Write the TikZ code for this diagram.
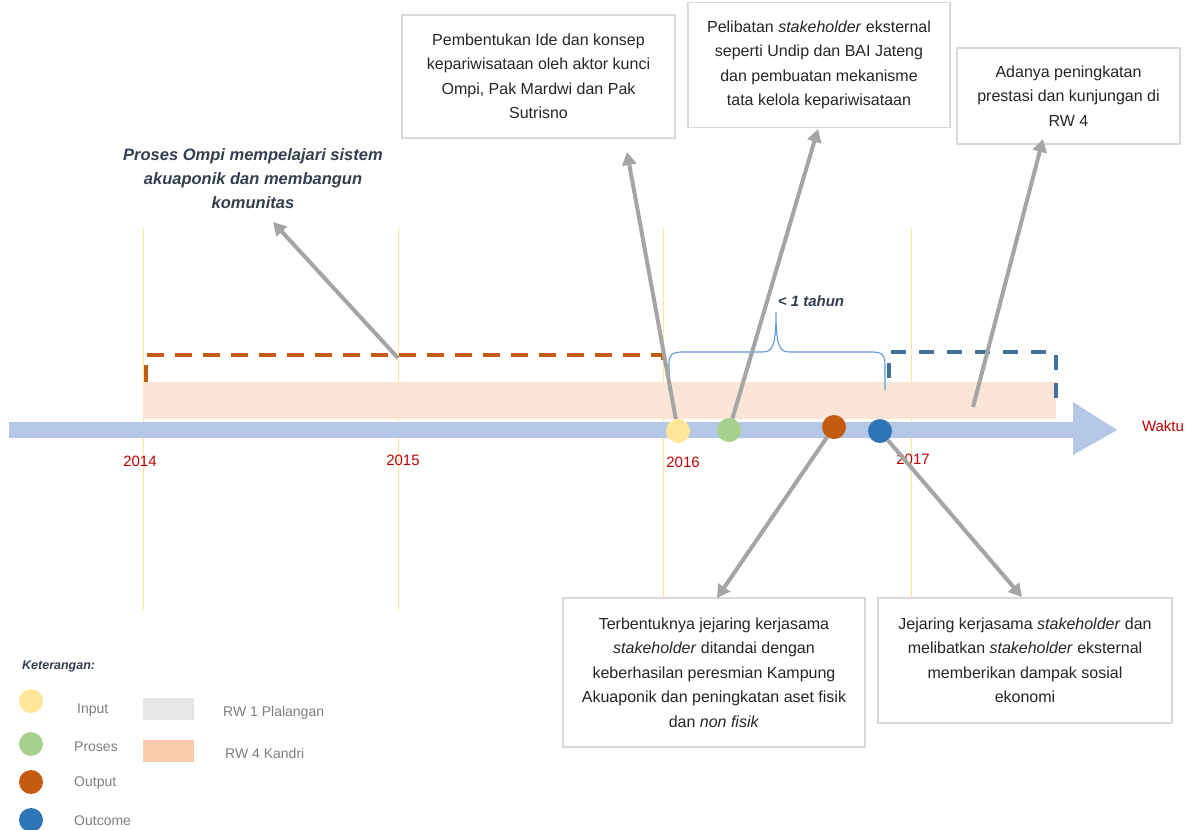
\documentclass[tikz,border=0pt]{standalone}
\usepackage{fontspec}
\setmainfont{Liberation Sans}
\usetikzlibrary{arrows.meta}
\definecolor{axisblue}{HTML}{B4C7E7}
\definecolor{peach}{HTML}{FBE5D6}
\definecolor{peachleg}{HTML}{F8CBAD}
\definecolor{greyleg}{HTML}{E7E6E6}
\definecolor{yline}{HTML}{FFE699}
\definecolor{yred}{HTML}{C00000}
\definecolor{inyellow}{HTML}{FFE699}
\definecolor{prgreen}{HTML}{A9D18E}
\definecolor{outorange}{HTML}{C55A11}
\definecolor{ocblue}{HTML}{2E75B6}
\definecolor{dashblue}{HTML}{41719C}
\definecolor{bracec}{HTML}{5B9BD5}
\definecolor{arrgrey}{HTML}{A5A5A5}
\definecolor{boxline}{HTML}{D9D9D9}
\definecolor{darktxt}{HTML}{333F50}
\definecolor{legtxt}{HTML}{7F7F7F}
\definecolor{boxtxt}{HTML}{262626}
\tikzset{
  infobox/.style={draw=boxline, line width=1.2pt, fill=white, align=center, inner sep=0pt,
    text=boxtxt, font=\fontsize{16}{24.5}\selectfont},
  dot/.style={circle, minimum size=24pt, inner sep=0pt, draw=none},
  garrow/.style={draw=arrgrey, line width=4pt, -{Triangle[length=13pt,width=14pt]}},
  yearlab/.style={text=yred, font=\fontsize{15}{18}\selectfont, inner sep=0pt},
  legtext/.style={text=legtxt, font=\fontsize{14}{17}\selectfont, anchor=west, inner sep=0pt},
  yearline/.style={draw=yline, line width=1pt},
}
\begin{document}
\begin{tikzpicture}[x=1pt,y=-1pt]
\useasboundingbox[fill=white] (0,0) rectangle (1189,830);

% year guide lines
\foreach \xx in {143,398,663,911} {\draw[yearline] (\xx,228) -- (\xx,610);}

% peach band
\fill[peach] (143,382) rectangle (1056,419);

% axis arrow
\fill[axisblue] (9,422) -- (1073,422) -- (1073,402) -- (1117,430) -- (1073,455) -- (1073,438) -- (9,438) -- cycle;

% dashed markers
\draw[outorange, line width=4pt, dash pattern=on 17pt off 11pt] (146,382) -- (146,355) -- (663,355) -- (663,370);
\draw[dashblue, line width=3.5pt, dash pattern=on 15pt off 13pt] (889,378) -- (889,352) -- (1056,352) -- (1056,405);

% brace
\draw[bracec, line width=1.1pt] (669,390) -- (669,364) .. controls (669,355) and (672,352) .. (682,352) -- (762,352) .. controls (772,352) and (776,348) .. (776,312) .. controls (776,348) and (780,352) .. (790,352) -- (872,352) .. controls (882,352) and (885,355) .. (885,364) -- (885,390);
\node[text=darktxt, font=\fontsize{15}{18}\selectfont\bfseries\itshape, inner sep=0pt] (lt) at (811,301) {< 1 tahun};

% year labels
\node[yearlab] (y14) at (140,461) {2014};
\node[yearlab] (y15) at (403,460) {2015};
\node[yearlab] (y16) at (683,462) {2016};
\node[yearlab] (y17) at (913,459) {2017};
\node[yearlab] (waktu) at (1163,426) {Waktu};

% event dots
\node[dot, fill=inyellow] (c1) at (678,431) {};
\node[dot, fill=prgreen] (c2) at (729,430) {};
\node[dot, fill=outorange] (c3) at (834,427) {};
\node[dot, fill=ocblue] (c4) at (880,431) {};

% text boxes
\node[infobox, minimum width=273pt, minimum height=123pt] (b1) at (538.5,76.5)
  {Pembentukan Ide dan konsep\\kepariwisataan oleh aktor kunci\\Ompi, Pak Mardwi dan Pak\\Sutrisno};
\node[infobox, minimum width=262pt, minimum height=125pt] (b2) at (819,65)
  {Pelibatan \textit{stakeholder} eksternal\\seperti Undip dan BAI Jateng\\dan pembuatan mekanisme\\tata kelola kepariwisataan};
\node[infobox, minimum width=223pt, minimum height=96pt] (b5) at (1068.5,96)
  {Adanya peningkatan\\prestasi dan kunjungan di\\RW 4};
\node[infobox, minimum width=302pt, minimum height=149pt] (b3) at (714,672.5)
  {Terbentuknya jejaring kerjasama\\\textit{stakeholder} ditandai dengan\\keberhasilan peresmian Kampung\\Akuaponik dan peningkatan aset fisik\\dan \textit{non fisik}};
\node[infobox, minimum width=294pt, minimum height=125pt] (b4) at (1025,660.5)
  {Jejaring kerjasama \textit{stakeholder} dan\\melibatkan \textit{stakeholder} eksternal\\memberikan dampak sosial\\ekonomi};

\node[text=darktxt, align=center, inner sep=0pt, font=\fontsize{16.5}{24}\selectfont\bfseries\itshape] (proses) at (253,179)
  {Proses Ompi mempelajari sistem\\akuaponik dan membangun\\komunitas};

% connector end points
\coordinate (t1) at (627,152);
\coordinate (t2) at (818,129);
\coordinate (t3) at (717,598);
\coordinate (t4) at (1022,597);
\coordinate (s5) at (973,407);
\coordinate (t5) at (1043,139);
\coordinate (s6) at (398,358);
\coordinate (t6) at (273,222);

\draw[garrow] (c1) -- (t1);
\draw[garrow] (c2) -- (t2);
\draw[garrow] (c3) -- (t3);
\draw[garrow] (c4) -- (t4);
\draw[garrow] (s5) -- (t5);
\draw[garrow] (s6) -- (t6);

% legend
\node[text=darktxt, font=\fontsize{12.5}{15}\selectfont\bfseries\itshape, anchor=west, inner sep=0pt] (ket) at (22,666) {Keterangan:};
\node[dot, fill=inyellow] (l1) at (31,701) {};
\node[dot, fill=prgreen] (l2) at (31,744) {};
\node[dot, fill=outorange] (l3) at (31,782) {};
\node[dot, fill=ocblue] (l4) at (31,820) {};
\node[legtext] (lt1) at (77,710) {Input};
\node[legtext] (lt2) at (74,747) {Proses};
\node[legtext] (lt3) at (74,783) {Output};
\node[legtext] (lt4) at (74,821) {Outcome};
\fill[greyleg] (143,698) rectangle (194,720);
\fill[peachleg] (143,740) rectangle (194,762);
\node[legtext] (lr1) at (223,713) {RW 1 Plalangan};
\node[legtext] (lr2) at (225,753) {RW 4 Kandri};
\end{tikzpicture}
\end{document}
